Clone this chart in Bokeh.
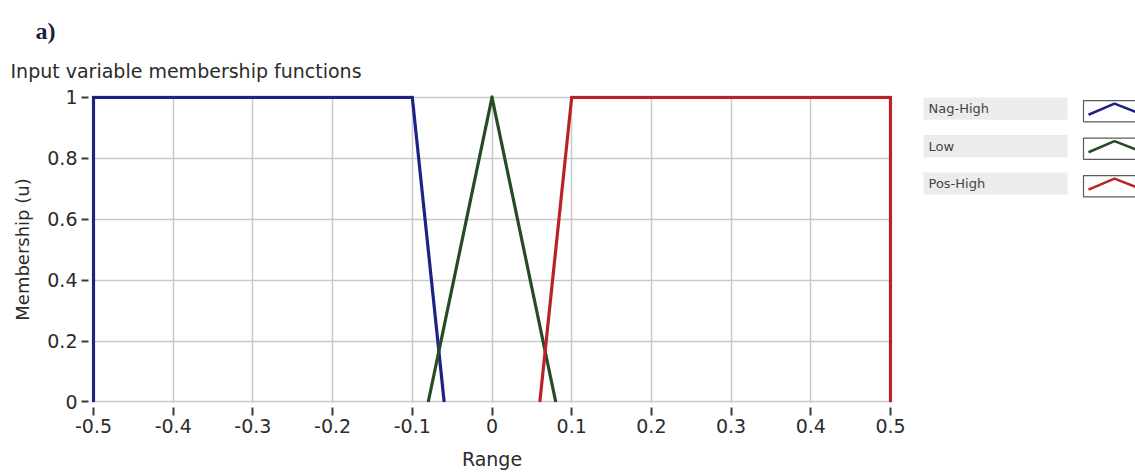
from bokeh.plotting import figure
from bokeh.layouts import row
from bokeh.models import Range1d, FixedTicker, Title
from bokeh.core.properties import value
from bokeh.embed import file_html
from bokeh.resources import INLINE

# Membership functions of the input variable (breakpoints on the Range axis)
series_names = ["Nag-High", "Low", "Pos-High"]
series_colors = ["#1f2285", "#244d26", "#bb2226"]

nag_high_x = [-0.5, -0.5, -0.1, -0.06]
nag_high_y = [0, 1, 1, 0]
low_x = [-0.08, 0.0, 0.08]
low_y = [0, 1, 0]
pos_high_x = [0.06, 0.1, 0.5, 0.5]
pos_high_y = [0, 1, 1, 0]

x_ticks = [-0.5, -0.4, -0.3, -0.2, -0.1, 0.0, 0.1, 0.2, 0.3, 0.4, 0.5]
x_tick_labels = ["-0.5", "-0.4", "-0.3", "-0.2", "-0.1", "0", "0.1", "0.2", "0.3", "0.4", "0.5"]
y_ticks = [0.0, 0.2, 0.4, 0.6, 0.8, 1.0]
y_tick_labels = ["0", "0.2", "0.4", "0.6", "0.8", "1"]

FONT = "DejaVu Sans"
TEXT = "#2b2b2b"

p = figure(
    width=910, height=474,
    x_range=Range1d(-0.5025, 0.5025), y_range=Range1d(-0.005, 1.006),
    output_backend="svg", toolbar_location=None,
    min_border_left=91, min_border_right=18, min_border_top=95, min_border_bottom=71,
)
p.outline_line_color = None
p.background_fill_color = "white"
p.border_fill_color = "white"

for g in (p.xgrid, p.ygrid):
    g.grid_line_color = "#c9c9c9"
    g.grid_line_width = 1.5
p.xgrid.ticker = FixedTicker(ticks=x_ticks)
p.ygrid.ticker = FixedTicker(ticks=y_ticks)

p.xaxis.ticker = FixedTicker(ticks=x_ticks)
p.yaxis.ticker = FixedTicker(ticks=y_ticks)
p.xaxis.major_label_overrides = dict(zip(x_ticks, x_tick_labels))
p.yaxis.major_label_overrides = dict(zip(y_ticks, y_tick_labels))

for ax in (p.xaxis[0], p.yaxis[0]):
    ax.axis_line_color = None
    ax.minor_tick_line_color = None
    ax.major_tick_line_color = "#3a3a3a"
    ax.major_tick_line_width = 2
    ax.major_label_text_font = FONT
    ax.major_label_text_font_size = "19px"
    ax.major_label_text_color = TEXT
    ax.axis_label_text_font = FONT
    ax.axis_label_text_font_style = "normal"
    ax.axis_label_text_color = TEXT

p.xaxis.axis_label = "Range"
p.xaxis.axis_label_text_font_size = "19px"
p.xaxis.major_tick_in = -4
p.xaxis.major_tick_out = 12
p.xaxis.major_label_standoff = 3
p.xaxis.axis_label_standoff = 12

p.yaxis.axis_label = "Membership (u)"
p.yaxis.axis_label_text_font_size = "18px"
p.yaxis.major_tick_in = -3
p.yaxis.major_tick_out = 10
p.yaxis.major_label_standoff = 4
p.yaxis.axis_label_standoff = 11

curves = [(nag_high_x, nag_high_y), (low_x, low_y), (pos_high_x, pos_high_y)]
for (xs, ys), color in zip(curves, series_colors):
    p.line(xs, ys, line_color=color, line_width=3.2, line_join="miter")

# Chart caption, then the panel letter stacked above it
p.add_layout(Title(text="Input variable membership functions", align="left",
                   offset=-81, standoff=27, text_font=FONT, text_font_size="19px",
                   text_font_style="normal", text_color=TEXT), "above")
p.add_layout(Title(text="a)", align="left", offset=-56, standoff=2,
                   text_font="Liberation Serif", text_font_size="24px",
                   text_font_style="bold", text_color="#1d1d3d"), "above")

# Legend panel: a label cell and a plot-style swatch for each series.
# Its frame shares the main frame's rows, so the y range spans those pixel rows.
lg = figure(
    width=225, height=474, x_range=Range1d(910, 1135), y_range=Range1d(401, 97),
    output_backend="svg", toolbar_location=None,
    x_axis_location=None, y_axis_location=None, min_border=0,
)
lg.outline_line_color = None
lg.xgrid.visible = False
lg.ygrid.visible = False

for i, (name, color) in enumerate(zip(series_names, series_colors)):
    top = 99 + 37 * i
    lg.quad(left=923, right=1067, top=top, bottom=top + 22,
            fill_color="#ececec", line_color=None)
    lg.text(x=[928], y=[top + 11], text=[name], text_font=value(FONT),
            text_font_size="13px", text_color="#444444", text_baseline="middle")
    lg.quad(left=1083, right=1145, top=top + 3, bottom=top + 24,
            fill_color="white", line_color="#5a5a5a", line_width=1.2)
    lg.line(x=[1088, 1114, 1140], y=[top + 17, top + 6, top + 16],
            line_color=color, line_width=2.5)

layout = row(p, lg)
open("out.html", "w").write(file_html(layout, INLINE))
